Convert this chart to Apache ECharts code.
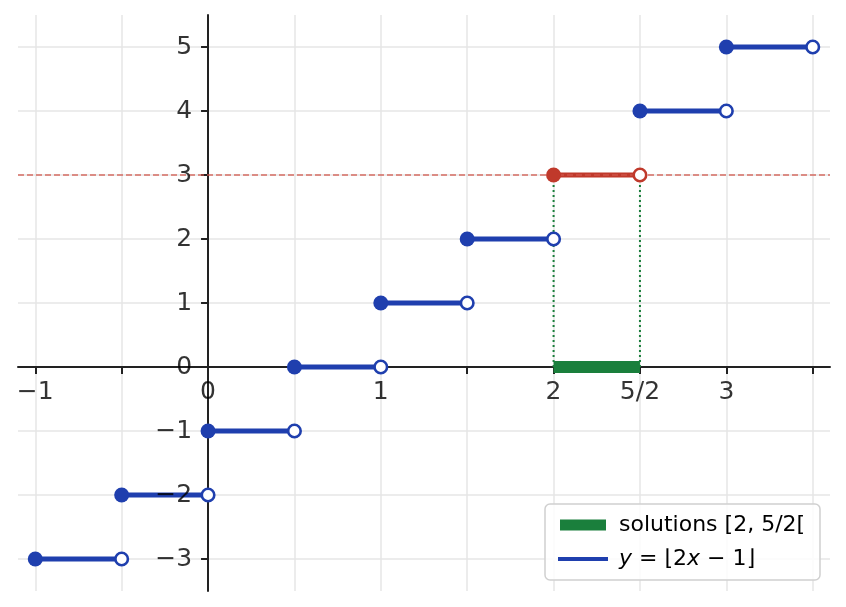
<!DOCTYPE html>
<html>
<head>
<meta charset="utf-8">
<script src="https://cdn.jsdelivr.net/npm/echarts@6/dist/echarts.min.js"></script>
<style>
html, body { margin: 0; padding: 0; background: #fff; }
#chart { width: 846px; height: 607px; }
</style>
</head>
<body>
<div id="chart"></div>
<script>
// marches de y = floor(2x - 1)
const segStart = [-1, -0.5, 0, 0.5, 1, 1.5, 2, 2.5, 3]
const segEnd = [-0.5, 0, 0.5, 1, 1.5, 2, 2.5, 3, 3.5]
const segValue = [-3, -2, -1, 0, 1, 2, 3, 4, 5]
// la marche qui vaut 3 -> solutions
const targetValue = 3
const solution = [2, 2.5]

// axes
const xRange = [-1.1, 3.6]
const yRange = [-3.5, 5.5]
const xTicks = [-1, -0.5, 0, 0.5, 1, 1.5, 2, 2.5, 3, 3.5]
const xLabelValues = [-1, 0, 1, 2, 2.5, 3]
const xLabelTexts = ['−1', '0', '1', '2', '5/2', '3']
const yTicks = [-3, -2, -1, 0, 1, 2, 3, 4, 5]
const yLabelTexts = ['−3', '−2', '−1', '0', '1', '2', '3', '4', '5']

const BLUE = '#1f3fae'
const RED = '#c0392b'
const GREEN = '#1a7f3c'
const FONT = 'DejaVu Sans'
const TEXT = '#000'
const FUNC_NAME = 'y = ⌊2x − 1⌋'
const SOL_NAME = 'solutions [2, 5/2['

const myChart = echarts.init(document.getElementById('chart'))

const series = []

// bande verte des solutions sur l'axe des x
series.push({
  name: SOL_NAME,
  type: 'line',
  data: [[solution[0], 0], [solution[1], 0]],
  symbol: 'none',
  color: GREEN,
  lineStyle: { width: 12, color: GREEN, cap: 'butt' },
  z: 5,
  silent: true
})

// pointillés verticaux
solution.forEach(x => {
  series.push({
    type: 'line',
    data: [[x, 0], [x, targetValue]],
    symbol: 'none',
    lineStyle: { width: 2, color: GREEN, type: [2, 3] },
    z: 3,
    silent: true
  })
})

// segments
const closedBlue = []
const openBlue = []
const closedRed = []
const openRed = []
segStart.forEach((x0, i) => {
  const x1 = segEnd[i]
  const v = segValue[i]
  const isTarget = v === targetValue
  series.push({
    name: isTarget ? undefined : FUNC_NAME,
    type: 'line',
    data: [[x0, v], [x1, v]],
    symbol: 'none',
    color: BLUE,
    lineStyle: { width: 5, color: isTarget ? RED : BLUE },
    z: 4,
    silent: true
  })
  if (isTarget) {
    closedRed.push([x0, v])
    openRed.push([x1, v])
  } else {
    closedBlue.push([x0, v])
    openBlue.push([x1, v])
  }
})

const dots = (data, col, open) => ({
  type: 'scatter',
  data: data,
  symbol: 'circle',
  symbolSize: open ? 12.5 : 15,
  itemStyle: open
    ? { color: '#fff', borderColor: col, borderWidth: 2.6, opacity: 1 }
    : { color: col, opacity: 1 },
  z: 6,
  silent: true
})
series.push(dots(closedBlue, BLUE, false))
series.push(dots(openBlue, BLUE, true))
series.push(dots(closedRed, RED, false))
series.push(dots(openRed, RED, true))

// droite y = 3 en tirets
series.push({
  type: 'line',
  data: [],
  markLine: {
    silent: true,
    symbol: 'none',
    label: { show: false },
    lineStyle: { color: '#d2574b', opacity: 0.85, width: 1.5, type: [6, 3] },
    data: [{ yAxis: targetValue }]
  },
  z: 2
})

// étiquettes des axes placées sur les axes centrés (x = 0, y = 0)
const tickText = { fontSize: 25, color: TEXT, fontFamily: FONT }
series.push({
  type: 'scatter',
  data: xLabelValues.map((v, i) => ({ value: [v, 0], name: xLabelTexts[i] })),
  symbolSize: 0,
  silent: true,
  z: 7,
  label: { show: true, position: 'bottom', distance: 13, formatter: p => p.name, ...tickText }
})
series.push({
  type: 'scatter',
  data: yTicks.map((v, i) => ({ value: [0, v], name: yLabelTexts[i] })),
  symbolSize: 0,
  silent: true,
  z: 7,
  label: { show: true, position: 'left', distance: 16, formatter: p => p.name, ...tickText }
})

const options = {
  animation: false,
  backgroundColor: '#fff',
  textStyle: { fontFamily: FONT },
  grid: {
    left: 18,
    right: 16,
    top: 15,
    bottom: 16,
    containLabel: false,
    outerBoundsMode: 'none'
  },
  xAxis: {
    type: 'value',
    min: xRange[0],
    max: xRange[1],
    axisLine: { onZero: true, lineStyle: { color: '#222', width: 2 } },
    axisTick: { show: true, length: 7, customValues: xTicks, lineStyle: { color: '#222', width: 2 } },
    axisLabel: { show: false },
    splitLine: { show: true, lineStyle: { color: '#e6e6e6', width: 1.5 } }
  },
  yAxis: {
    type: 'value',
    min: yRange[0],
    max: yRange[1],
    axisLine: { onZero: true, lineStyle: { color: '#222', width: 2 } },
    axisTick: { show: true, length: 7, customValues: yTicks, lineStyle: { color: '#222', width: 2 } },
    axisLabel: { show: false },
    splitLine: { show: true, lineStyle: { color: '#e6e6e6', width: 1.5 } }
  },
  legend: [
    {
      data: [{ name: SOL_NAME, icon: 'rect' }],
      left: 555,
      top: 509,
      itemWidth: 46,
      itemHeight: 11,
      selectedMode: false,
      textStyle: { fontSize: 22, color: TEXT, fontFamily: FONT, padding: [0, 0, 0, 8] }
    },
    {
      data: [{ name: FUNC_NAME, icon: 'rect' }],
      left: 553,
      top: 543,
      itemWidth: 50,
      itemHeight: 4,
      selectedMode: false,
      formatter: () => '{i|y} = ⌊2{i|x} − 1⌋',
      textStyle: {
        fontSize: 22,
        color: TEXT,
        fontFamily: FONT,
        padding: [0, 0, 0, 6],
        rich: { i: { fontStyle: 'italic', fontSize: 22, fontFamily: FONT, color: TEXT } }
      }
    }
  ],
  graphic: [
    {
      type: 'rect',
      shape: { x: 545, y: 504, width: 275, height: 76, r: 5 },
      style: { fill: 'rgba(255,255,255,0.85)', stroke: '#d0d0d0', lineWidth: 1.5 },
      z: 3,
      silent: true
    }
  ],
  series: series
}

myChart.setOption(options)
</script>
</body>
</html>
